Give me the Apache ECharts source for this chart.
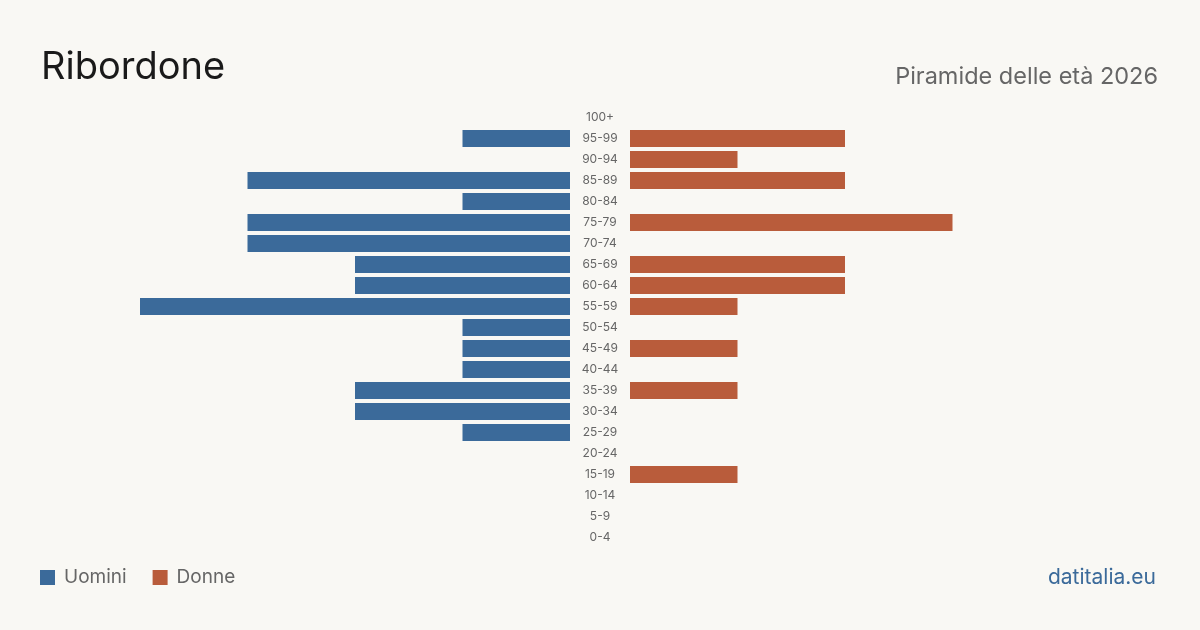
<!DOCTYPE html>
<html>
<head>
<meta charset="utf-8">
<script src="https://cdn.jsdelivr.net/npm/echarts@6/dist/echarts.min.js"></script>
<style>
  html, body { margin: 0; padding: 0; background: #f9f8f4; }
  #chart { width: 1200px; height: 630px; }
</style>
</head>
<body>
<div id="chart"></div>
<script>
// fasce d'età dal basso verso l'alto
var ageGroups = ['0-4', '5-9', '10-14', '15-19', '20-24', '25-29', '30-34', '35-39', '40-44', '45-49',
    '50-54', '55-59', '60-64', '65-69', '70-74', '75-79', '80-84', '85-89', '90-94', '95-99', '100+'];
var uomini = [0, 0, 0, 0, 0, 1, 2, 2, 1, 1, 1, 4, 2, 2, 3, 3, 1, 3, 0, 1, 0];
var donne  = [0, 0, 0, 1, 0, 0, 0, 1, 0, 1, 0, 1, 2, 2, 0, 3, 0, 2, 1, 2, 0];

var myChart = echarts.init(document.getElementById('chart'));
var font = 'Inter, "Noto Sans", sans-serif';

var option = {
    backgroundColor: '#f9f8f4',
    animation: false,
    color: ['#3b6a9a', '#b95c3b'],
    title: [
        {
            text: 'Ribordone',
            left: 36, top: 44,
            textStyle: { fontFamily: font, fontSize: 38, fontWeight: 'normal', color: '#1a1a1a' }
        },
        {
            text: 'Piramide delle età 2026',
            right: 37, top: 60,
            textStyle: { fontFamily: font, fontSize: 23.5, fontWeight: 'normal', color: '#666666' }
        },
        {
            text: 'datitalia.eu',
            right: 39, top: 562,
            textStyle: { fontFamily: font, fontSize: 21, fontWeight: 'normal', color: '#3b6a9a' }
        }
    ],
    legend: {
        left: 40, top: 568,
        padding: 0,
        itemWidth: 15, itemHeight: 15,
        itemGap: 26,
        icon: 'rect',
        textStyle: { fontFamily: font, fontSize: 19, color: '#666666', padding: [0, 0, 0, 4] },
        data: ['Uomini', 'Donne']
    },
    grid: [
        { left: 140, right: 630, top: 107, bottom: 82 },
        { left: 630, right: 140, top: 107, bottom: 82 }
    ],
    xAxis: [
        { type: 'value', gridIndex: 0, min: 0, max: 4, inverse: true, show: false },
        { type: 'value', gridIndex: 1, min: 0, max: 4, show: false }
    ],
    yAxis: [
        {
            type: 'category', gridIndex: 0, data: ageGroups,
            axisLine: { show: false }, axisTick: { show: false }, axisLabel: { show: false }
        },
        {
            type: 'category', gridIndex: 1, data: ageGroups, position: 'left',
            axisLine: { show: false }, axisTick: { show: false },
            axisLabel: { align: 'center', margin: 30, fontFamily: font, fontSize: 12, color: '#666666' }
        }
    ],
    series: [
        { name: 'Uomini', type: 'bar', xAxisIndex: 0, yAxisIndex: 0, barWidth: 17, data: uomini },
        { name: 'Donne', type: 'bar', xAxisIndex: 1, yAxisIndex: 1, barWidth: 17, data: donne }
    ]
};

myChart.setOption(option, true);
</script>
</body>
</html>
